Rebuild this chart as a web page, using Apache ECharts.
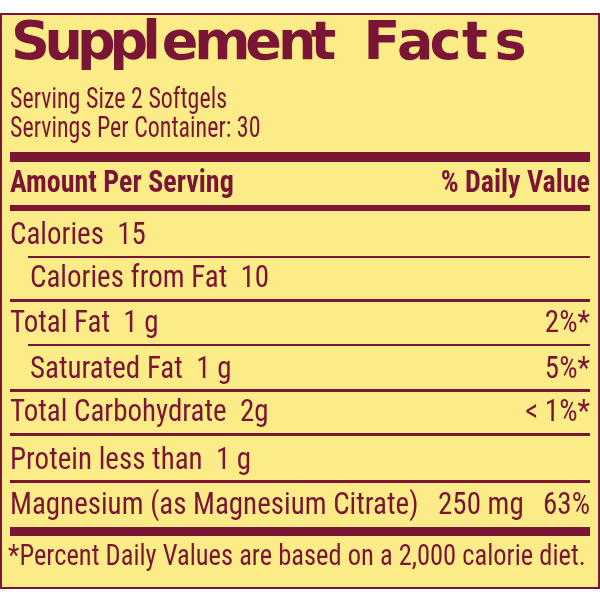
<!DOCTYPE html>
<html>
<head>
<meta charset="utf-8">
<script src="https://cdn.jsdelivr.net/npm/echarts@6/dist/echarts.min.js"></script>
<style>
  html, body { margin: 0; padding: 0; background: #fff; }
  #main { width: 600px; height: 600px; }
</style>
</head>
<body>
<div id="main"></div>
<script>
// label data
var title = "Supplement Facts";
var servingLines = ["Serving Size 2 Softgels", "Servings Per Container: 30"];
var headers = ["Amount Per Serving", "% Daily Value"];
var nutrients = ["Calories", "Calories from Fat", "Total Fat", "Saturated Fat", "Total Carbohydrate", "Protein less than", "Magnesium (as Magnesium Citrate)"];
var amounts = ["15", "10", "1 g", "1 g", "2g", "1 g", "250 mg"];
var dailyValues = ["", "", "2%*", "5%*", "< 1%*", "", "63%"];
var indented = [false, true, false, true, false, false, false];
var footnote = "*Percent Daily Values are based on a 2,000 calorie diet.";

var maroon = "#7b1535";
var yellow = "#fbec87";
var narrow = "'Liberation Sans Narrow', 'Roboto Condensed', 'Roboto', sans-serif";

// row layout
var rowY = [236, 279, 324, 370, 413, 461, 506];
// separator under each row: [y, x0, height]
var rules = [[256, 28, 2], [299, 10, 3], [344, 28, 2], [389, 10, 3], [433, 10, 3], [480, 10, 3]];

var chart = echarts.init(document.getElementById('main'));
var els = [];

els.push({ type: 'rect', shape: { x: 1, y: 14, width: 598, height: 574 },
  style: { fill: yellow, stroke: maroon, lineWidth: 2 } });

function txt(x, y, s, size, weight, align, sy) {
  els.push({ type: 'text', x: x, y: y, scaleY: sy || 1.1, style: {
    text: s, fill: maroon, font: (weight || 'normal') + ' ' + size + 'px ' + narrow,
    textAlign: align || 'left', textVerticalAlign: 'middle' } });
}
function bar(y, h, x0) {
  els.push({ type: 'rect', shape: { x: x0 || 10, y: y, width: 590 - (x0 || 10), height: h },
    style: { fill: maroon } });
}

// title (wide letter spacing)
var x = 11;
title.split('').forEach(function (c) {
  els.push({ type: 'text', x: x, y: 45, style: {
    text: c, fill: maroon, font: '900 54px "DejaVu Sans", sans-serif',
    textAlign: 'left', textVerticalAlign: 'middle' } });
  x += 0.93 * (c === ' ' ? 22 : (c === 'l' ? 21 : (c === 'm' ? 55 : (c === 'S' || c === 'F' ? 36 : 35))));
});

txt(10, 101, servingLines[0], 24, 'normal', 'left', 1.2);
txt(10, 130, servingLines[1], 24, 'normal', 'left', 1.2);
bar(152, 10);
txt(10, 184, headers[0], 28, 'bold');
txt(590, 184, headers[1], 28, 'bold', 'right');
bar(205, 6);

nutrients.forEach(function (n, i) {
  var x0 = indented[i] ? 30 : 10;
  if (i === nutrients.length - 1) {
    txt(x0, rowY[i], n, 29);
    txt(438, rowY[i], amounts[i], 29);
  } else {
    txt(x0, rowY[i], n + '  ' + amounts[i], 29);
  }
  if (dailyValues[i]) txt(590, rowY[i], dailyValues[i], 29, 'normal', 'right');
});
rules.forEach(function (r) { bar(r[0], r[2], r[1]); });

bar(527, 9);
txt(8, 558, footnote, 26.5);

chart.setOption({ backgroundColor: '#fff', graphic: { elements: els } });
</script>
</body>
</html>
